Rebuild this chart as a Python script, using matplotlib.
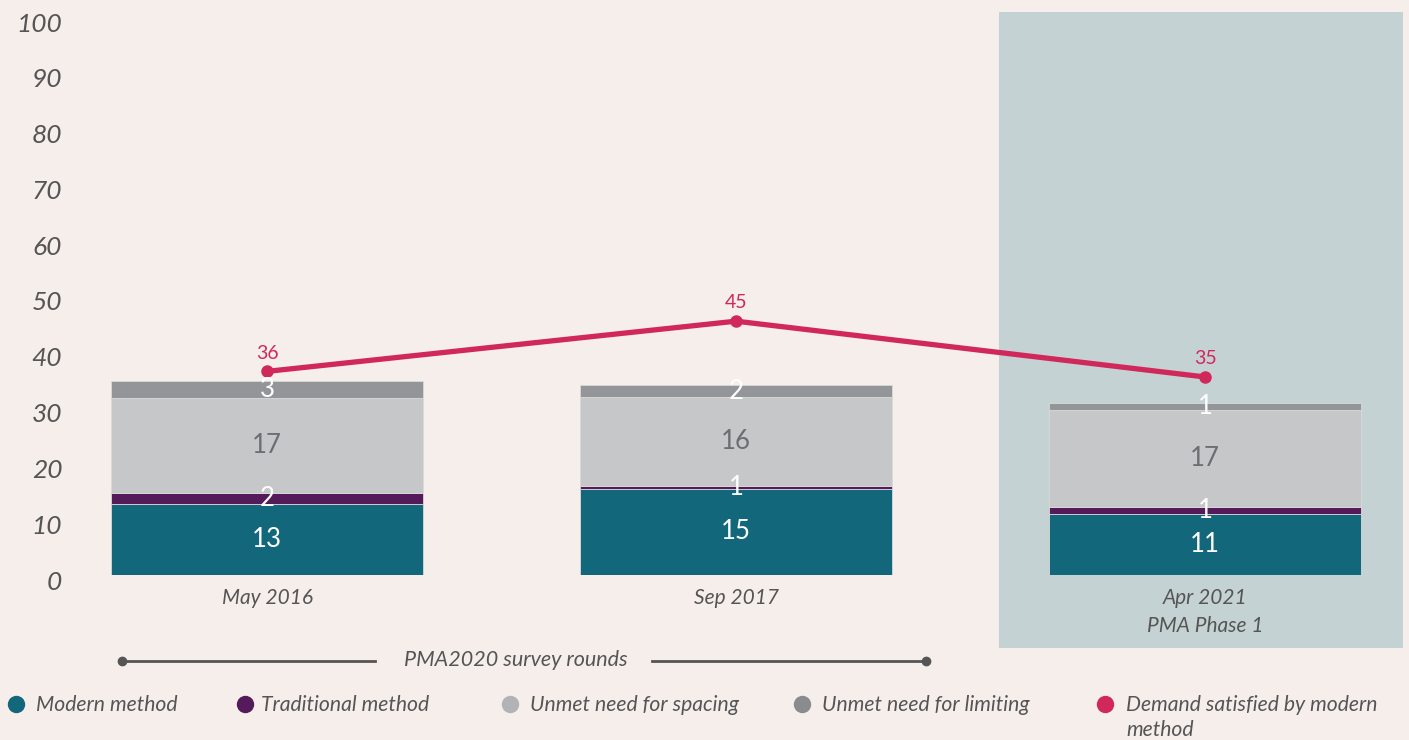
import matplotlib
matplotlib.use("Agg")
import matplotlib.pyplot as plt
import matplotlib.transforms as mtransforms
from matplotlib.patches import Rectangle
from matplotlib.lines import Line2D
import numpy as np

# data
rounds = ["May 2016", "Sep 2017", "Apr 2021\nPMA Phase 1"]
modern = [12.6, 15.3, 10.8]
traditional = [2.0, 0.6, 1.3]
unmet_spacing = [17.1, 15.9, 17.3]
unmet_limiting = [2.9, 2.1, 1.3]
demand_satisfied = [36.4, 45.4, 35.4]

series_names = ["Modern method", "Traditional method", "Unmet need for spacing",
                "Unmet need for limiting"]
colors = ["#12677b", "#541a5a", "#c6c7c9", "#939598"]
label_colors = ["white", "white", "#6d6e71", "white"]
line_color = "#d1285b"
bg = "#f6eeeb"
shade = "#c5d2d4"
txt = "#555555"

W, H = 1409, 740
fig = plt.figure(figsize=(W / 100, H / 100), dpi=100, facecolor=bg)

ax_left, ax_right = 90, 1409
ax_top, ax_bot = 16.5, 574.5
ax = fig.add_axes([ax_left / W, 1 - ax_bot / H, (ax_right - ax_left) / W, (ax_bot - ax_top) / H])
ax.set_facecolor("none")

# shaded box for the PMA Phase 1 round (goes beyond the axes)
ax.add_patch(Rectangle((999 / W, 1 - 648 / H), (1403 - 999) / W, (648 - 12) / H,
                       transform=fig.transFigure, facecolor=shade, edgecolor="none",
                       zorder=0, clip_on=False))

x = np.arange(len(rounds))
width = 0.667
bottom = np.zeros(len(rounds))
for vals, col, lcol in zip([modern, traditional, unmet_spacing, unmet_limiting], colors, label_colors):
    ax.bar(x, vals, width, bottom=bottom, color=col, edgecolor="#d9d9d9", linewidth=0.6, zorder=2)
    for xi, b, v in zip(x, bottom, vals):
        ax.text(xi, b + v / 2, f"{v:.0f}", ha="center", va="center", color=lcol,
                fontsize=18.5, family="Lato", zorder=4)
    bottom += np.array(vals)

ax.plot(x, demand_satisfied, color=line_color, lw=3.8, marker="o", ms=8, zorder=3,
        solid_capstyle="round")
for xi, v in zip(x, demand_satisfied):
    ax.annotate(f"{v:.0f}", (xi, v), xytext=(0, 7), textcoords="offset points",
                ha="center", va="bottom", color=line_color, fontsize=14, family="Lato")

ax.set_xlim(-(267 - ax_left) / 469, 2 + (ax_right - 1205) / 469)
ax.set_ylim(0, 100)
ax.set_yticks(np.arange(0, 101, 10))
ax.set_xticks(x)
ax.set_xticklabels(rounds, fontsize=15, family="Lato", style="italic", color=txt,
                   linespacing=1.5)
ax.tick_params(axis="both", length=0, pad=10)
ax.tick_params(axis="y", pad=20)
for lab in ax.get_yticklabels():
    lab.set_fontsize(19)
    lab.set_family("Lato")
    lab.set_style("italic")
    lab.set_color(txt)
    lab.set_transform(lab.get_transform() + mtransforms.ScaledTranslation(0, -5.5 / 100, fig.dpi_scale_trans))
for s in ax.spines.values():
    s.set_visible(False)

# survey rounds bracket
yb = 1 - 661 / H
fig.add_artist(Line2D([122 / W, 375 / W], [yb, yb], color=txt, lw=2, transform=fig.transFigure))
fig.add_artist(Line2D([652 / W, 926 / W], [yb, yb], color=txt, lw=2, transform=fig.transFigure))
fig.add_artist(Line2D([122 / W, 926 / W], [yb, yb], color=txt, lw=0, marker="o", ms=6,
                      transform=fig.transFigure))
fig.text(516 / W, 1 - 660 / H, "PMA2020 survey rounds", ha="center", va="center",
         fontsize=15.5, family="Lato", style="italic", color=txt)

# legend
leg_y = 1 - 704 / H
dots = [16, 245, 510, 802, 1105]
text_x = [36, 261, 530, 822, 1126]
leg_colors = ["#12677b", "#541a5a", "#b1b3b6", "#8a8b8d", line_color]
leg_names = series_names + ["Demand satisfied by modern\nmethod"]
for dx, tx, c, n in zip(dots, text_x, leg_colors, leg_names):
    fig.add_artist(Line2D([dx / W], [leg_y], color=c, lw=0, marker="o", ms=11.5,
                          transform=fig.transFigure))
    fig.text(tx / W, 1 - 695 / H, n, ha="left", va="top", fontsize=15.2, family="Lato",
             style="italic", color=txt, linespacing=1.3)

fig.savefig("out.png", dpi=100, facecolor=bg)
